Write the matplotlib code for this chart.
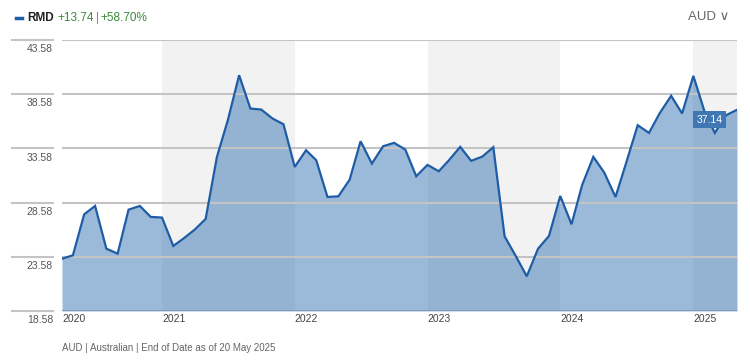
import matplotlib
matplotlib.use("Agg")
import matplotlib.pyplot as plt
import matplotlib.transforms as mtransforms
import numpy as np
import pandas as pd

plt.rcParams['font.family'] = ['Liberation Sans Narrow', 'Liberation Sans', 'DejaVu Sans']

# monthly closes, Apr 2020 .. May 2025 (AUD)
dates = pd.date_range('2020-04-01', '2025-05-01', freq='MS')
prices = [23.40, 23.72, 27.50, 28.27, 24.33, 23.87, 27.93, 28.27, 27.26, 27.20,
          24.58, 25.26, 26.09, 27.07, 32.80, 36.18, 40.33, 37.26, 37.16, 36.33,
          35.81, 31.87, 33.41, 32.49, 29.10, 29.16, 30.70, 34.24, 32.18, 33.78,
          34.09, 33.47, 31.01, 32.06, 31.47, 32.49, 33.72, 32.43, 32.83, 33.69,
          25.47, 23.63, 21.78, 24.33, 25.50, 29.19, 26.58, 30.18, 32.80, 31.35,
          29.10, 32.33, 35.72, 35.01, 36.86, 38.43, 36.80, 40.27, 36.95, 35.01,
          36.64, 37.14]
yticks = [18.58, 23.58, 28.58, 33.58, 38.58, 43.58]
years = [2020, 2021, 2022, 2023, 2024, 2025]
shaded_years = [2021, 2023, 2025]
ticker = 'RMD'
change_abs = '+13.74'
change_pct = '+58.70%'
footer = 'AUD | Australian | End of Date as of 20 May 2025'

line_col = '#1f5ca6'
fill_col = '#2f6fb0'
grid_col = '#c4c4c4'
green = '#3a8a3a'

fig = plt.figure(figsize=(7.5, 3.6), dpi=100)
ax = fig.add_axes([62 / 750, 49 / 360, 675 / 750, 271 / 360])
ax.set_xlim(dates[0], dates[-1])
ax.set_ylim(yticks[0], yticks[-1])

for y in shaded_years:
    ax.axvspan(pd.Timestamp(f'{y}-01-01'), pd.Timestamp(f'{y + 1}-01-01'),
               color='#f2f2f2', zorder=0, lw=0)

ax.fill_between(dates, prices, yticks[0], color=fill_col, alpha=0.48, lw=0, zorder=1)
for v in yticks:
    ax.axhline(v, color=grid_col, lw=1.5, zorder=2)
ax.axhline(yticks[0], color='#7f9cc0', lw=1.5, zorder=2)
ax.plot(dates, prices, color=line_col, lw=1.6, zorder=3, solid_joinstyle='miter')

# left label area: short grid segments + values below them
blend = mtransforms.blended_transform_factory(ax.transAxes, ax.transData)
for v in yticks:
    ax.plot([-50 / 675, -9 / 675], [v, v], color=grid_col, lw=1.5,
            transform=blend, clip_on=False)
    ax.annotate(f'{v:.2f}', xy=(-9 / 675, v), xycoords=blend,
                xytext=(0, -3), textcoords='offset points',
                ha='right', va='top', fontsize=7.5, color='#555555')

for spine in ax.spines.values():
    spine.set_visible(False)
ax.set_yticks([])
tick_pos = [dates[0]] + [pd.Timestamp(f'{y}-01-01') for y in years[1:]]
ax.set_xticks(tick_pos)
ax.set_xticklabels([str(y) for y in years], ha='left', fontsize=7.5, color='#444444')
ax.tick_params(axis='x', length=0, pad=2)

# last value badge
ax.annotate(f'{prices[-1]:.2f}', xy=(dates[-1], prices[-1]), xycoords='data',
            xytext=(-20, -7), textcoords='offset points',
            ha='center', va='center', fontsize=7.5, color='white',
            bbox=dict(boxstyle='square,pad=0.35', fc='#3f77b4', ec='none'), zorder=5)

# header: legend dash, then texts chained one after the other
hy = 1 - 18 / 360
fig.add_artist(plt.Line2D([16 / 750, 22 / 750], [hy, hy], color=line_col, lw=2.5,
                          transform=fig.transFigure))
prev = fig.text(27 / 750, hy, ticker, color='#222222', fontsize=8.5,
                fontweight='bold', va='center', ha='left')
pieces = [(change_abs, green, 2.5), ('|', '#888888', 1.5), (change_pct, green, 1.5)]
for s, c, gap in pieces:
    prev = fig.add_artist(plt.Annotation(s, xy=(1, 0.5), xycoords=prev,
                                         xytext=(gap, 0), textcoords='offset points',
                                         ha='left', va='center', color=c, fontsize=8.5))

fig.text(688 / 750, 1 - 17 / 360, 'AUD \u2228', color='#666666', fontsize=9.5,
         va='center', ha='left')

fig.text(62 / 750, 1 - 348 / 360, footer, color='#666666', fontsize=7,
         va='center', ha='left')

fig.savefig('out.png', dpi=100)
